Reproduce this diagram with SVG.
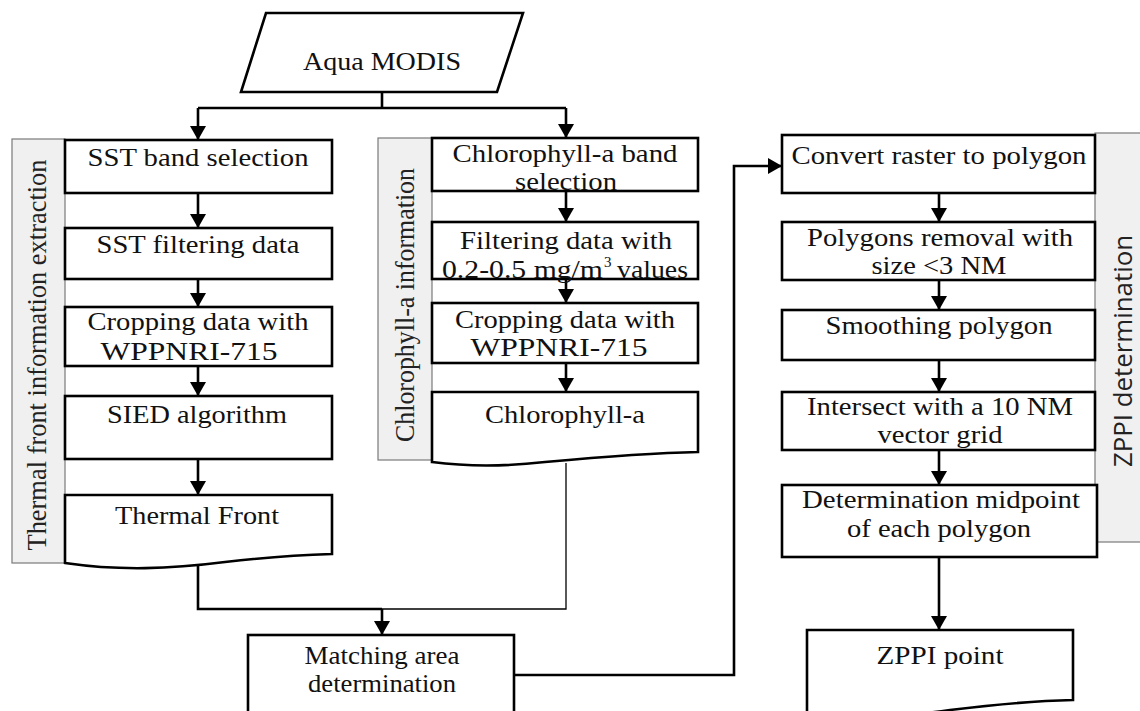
<svg xmlns="http://www.w3.org/2000/svg" width="1140" height="711" viewBox="0 0 1140 711">
<defs>
<style>
.box{fill:#fff;stroke:#000;stroke-width:2.6}
.lane{fill:#f0f0f0;stroke:#7a7a7a;stroke-width:1.2}
.t{font-family:"Liberation Serif","Times New Roman",serif;font-size:25px;fill:#111;text-anchor:middle}
.v{font-family:"Liberation Serif","Times New Roman",serif;font-size:28px;fill:#222;text-anchor:middle}
.vs{font-family:"Open Sans","Noto Sans","Liberation Sans",sans-serif;font-size:25px;fill:#222;text-anchor:middle}
.c{fill:none;stroke:#000;stroke-width:2.6}
.ct{fill:none;stroke:#000;stroke-width:1.3}
</style>
<marker id="ah" viewBox="0 0 14 16" markerWidth="14" markerHeight="16" refX="13" refY="8" orient="auto" markerUnits="userSpaceOnUse">
<path d="M0,0 L14,8 L0,16 z" fill="#000"/>
</marker>
</defs>
<rect width="1140" height="711" fill="#fff"/>

<g id="lane-thermal">
<rect class="lane" x="12" y="139" width="53" height="424"/>
<text class="v" transform="translate(46,355) rotate(-90)" textLength="391" lengthAdjust="spacingAndGlyphs">Thermal front information extraction</text>
</g>
<g id="lane-chl">
<rect class="lane" x="378" y="138" width="54" height="322"/>
<text class="v" transform="translate(414,305) rotate(-90)" textLength="274" lengthAdjust="spacingAndGlyphs">Chlorophyll-a information</text>
</g>
<g id="lane-zppi">
<rect class="lane" x="1095" y="133" width="50" height="409"/>
<text class="vs" transform="translate(1132,351) rotate(-90)" textLength="232" lengthAdjust="spacingAndGlyphs">ZPPI determination</text>
</g>

<g id="connectors">
<path class="c" d="M382,92 V108"/>
<path class="c" d="M198,108 H566"/>
<path class="c" d="M198,108 V139" marker-end="url(#ah)"/>
<path class="c" d="M566,108 V137" marker-end="url(#ah)"/>
<path class="c" d="M198,193 V227" marker-end="url(#ah)"/>
<path class="c" d="M198,279 V306" marker-end="url(#ah)"/>
<path class="c" d="M198,366 V395" marker-end="url(#ah)"/>
<path class="c" d="M198,459 V494" marker-end="url(#ah)"/>
<path class="c" d="M566,191 V221" marker-end="url(#ah)"/>
<path class="c" d="M566,279 V302" marker-end="url(#ah)"/>
<path class="c" d="M566,363 V391" marker-end="url(#ah)"/>
<path class="c" d="M198,565 V609 H382"/>
<path class="ct" d="M566,463 V609 H382"/>
<path class="c" d="M382,609 V634" marker-end="url(#ah)"/>
<path class="c" d="M514,675 H734 V166 H781" marker-end="url(#ah)"/>
<path class="c" d="M939,193 V221" marker-end="url(#ah)"/>
<path class="c" d="M939,280 V309" marker-end="url(#ah)"/>
<path class="c" d="M939,360 V391" marker-end="url(#ah)"/>
<path class="c" d="M939,450 V484" marker-end="url(#ah)"/>
<path class="c" d="M939,557 V629" marker-end="url(#ah)"/>
</g>

<g id="aqua-modis">
<path class="box" d="M266,13 L523,13 L497,92 L241,92 Z"/>
<text class="t" x="382" y="70" textLength="158" lengthAdjust="spacingAndGlyphs">Aqua MODIS</text>
</g>

<g id="sst-band">
<rect class="box" x="65" y="140" width="267" height="53"/>
<text class="t" x="198" y="166" textLength="221" lengthAdjust="spacingAndGlyphs">SST band selection</text>
</g>
<g id="sst-filter">
<rect class="box" x="65" y="228" width="267" height="51"/>
<text class="t" x="198" y="253" textLength="203" lengthAdjust="spacingAndGlyphs">SST filtering data</text>
</g>
<g id="sst-crop">
<rect class="box" x="65" y="307" width="267" height="59"/>
<text class="t" x="198" y="330" textLength="221" lengthAdjust="spacingAndGlyphs">Cropping data with</text>
<text class="t" x="189" y="360" textLength="177" lengthAdjust="spacingAndGlyphs">WPPNRI-715</text>
</g>
<g id="sied">
<rect class="box" x="65" y="396" width="267" height="63"/>
<text class="t" x="197" y="423" textLength="180" lengthAdjust="spacingAndGlyphs">SIED algorithm</text>
</g>
<g id="thermal-front">
<path class="box" d="M65,495 H332 V554 C300,555 260,558 225,562 C170,569 120,571 65,563 Z"/>
<text class="t" x="197" y="524" textLength="164" lengthAdjust="spacingAndGlyphs">Thermal Front</text>
</g>

<g id="chl-band">
<rect class="box" x="432" y="138" width="266" height="53"/>
<text class="t" x="565" y="162" textLength="225" lengthAdjust="spacingAndGlyphs">Chlorophyll-a band</text>
<text class="t" x="566" y="190" textLength="102" lengthAdjust="spacingAndGlyphs">selection</text>
</g>
<g id="chl-filter">
<rect class="box" x="432" y="222" width="266" height="57"/>
<text class="t" x="566" y="249" textLength="212" lengthAdjust="spacingAndGlyphs">Filtering data with</text>
<text class="t" y="278" style="text-anchor:start"><tspan x="442" textLength="161" lengthAdjust="spacingAndGlyphs">0.2-0.5 mg/m</tspan><tspan x="604" y="267" style="font-size:15px">3</tspan><tspan x="617" y="278" textLength="71" lengthAdjust="spacingAndGlyphs">values</tspan></text>
</g>
<g id="chl-crop">
<rect class="box" x="432" y="303" width="266" height="60"/>
<text class="t" x="565" y="328" textLength="220" lengthAdjust="spacingAndGlyphs">Cropping data with</text>
<text class="t" x="559" y="356" textLength="177" lengthAdjust="spacingAndGlyphs">WPPNRI-715</text>
</g>
<g id="chlorophyll-a">
<path class="box" d="M432,392 H698 V452 C650,453 600,457 545,462 C510,466 470,467 432,462 Z"/>
<text class="t" x="565" y="423" textLength="160" lengthAdjust="spacingAndGlyphs">Chlorophyll-a</text>
</g>

<g id="matching">
<rect class="box" x="248" y="635" width="266" height="90"/>
<text class="t" x="382" y="664" textLength="155" lengthAdjust="spacingAndGlyphs">Matching area</text>
<text class="t" x="382" y="692" textLength="148" lengthAdjust="spacingAndGlyphs">determination</text>
</g>

<g id="convert">
<rect class="box" x="782" y="135" width="313" height="58"/>
<text class="t" x="939" y="164" textLength="295" lengthAdjust="spacingAndGlyphs">Convert raster to polygon</text>
</g>
<g id="removal">
<rect class="box" x="782" y="222" width="313" height="58"/>
<text class="t" x="940" y="246" textLength="266" lengthAdjust="spacingAndGlyphs">Polygons removal with</text>
<text class="t" x="939" y="274" textLength="135" lengthAdjust="spacingAndGlyphs">size &lt;3 NM</text>
</g>
<g id="smoothing">
<rect class="box" x="782" y="310" width="313" height="50"/>
<text class="t" x="939" y="334" textLength="227" lengthAdjust="spacingAndGlyphs">Smoothing polygon</text>
</g>
<g id="intersect">
<rect class="box" x="782" y="392" width="313" height="58"/>
<text class="t" x="940" y="415" textLength="266" lengthAdjust="spacingAndGlyphs">Intersect with a 10 NM</text>
<text class="t" x="940" y="443" textLength="125" lengthAdjust="spacingAndGlyphs">vector grid</text>
</g>
<g id="midpoint">
<rect class="box" x="782" y="485" width="315" height="72"/>
<text class="t" x="941" y="508" textLength="278" lengthAdjust="spacingAndGlyphs">Determination midpoint</text>
<text class="t" x="939" y="537" textLength="184" lengthAdjust="spacingAndGlyphs">of each polygon</text>
</g>
<g id="zppi-point">
<path class="box" d="M807,630 H1073 V700 C1030,701 990,705 950,710 C900,717 850,720 807,716 Z"/>
<text class="t" x="940" y="664" textLength="127" lengthAdjust="spacingAndGlyphs">ZPPI point</text>
</g>
</svg>
